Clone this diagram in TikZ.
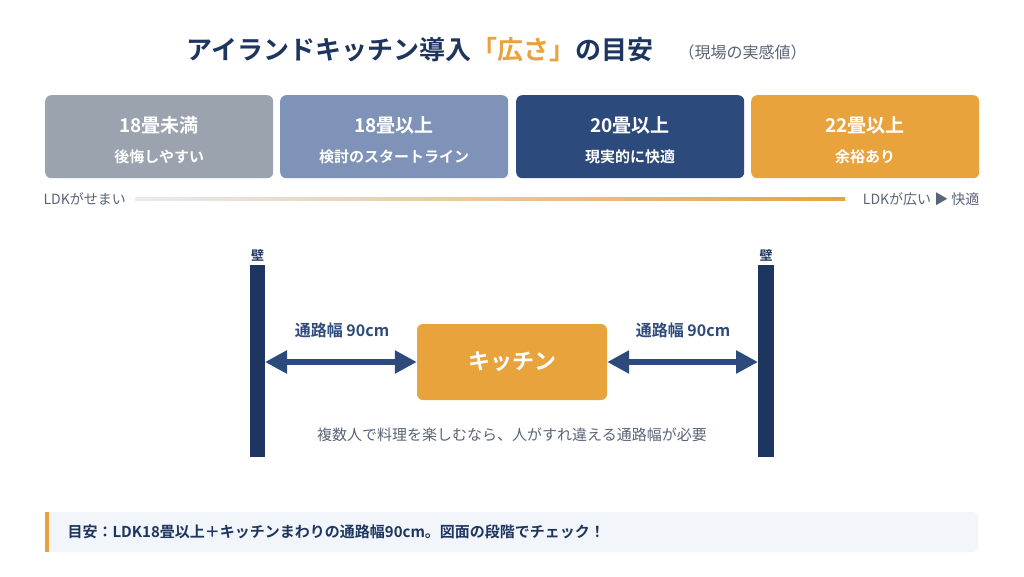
\documentclass[tikz,border=0pt]{standalone}
\usepackage{fontspec}
\setmainfont{Noto Sans CJK JP}[BoldFont={Noto Sans CJK JP Bold}]
\usetikzlibrary{arrows.meta,positioning}
\definecolor{navy}{HTML}{1E3560}
\definecolor{midnavy}{HTML}{2D4A7C}
\definecolor{orng}{HTML}{E8A33D}
\definecolor{slate}{HTML}{9AA3AE}
\definecolor{steel}{HTML}{7F93B8}
\definecolor{txtgray}{HTML}{5A6478}
\definecolor{barbg}{HTML}{F2F5F9}
\tikzset{%
    lvl/.style={rectangle, rounded corners=6pt, minimum width=228pt, minimum height=83pt, text=white, align=center, font=\bfseries, anchor=north west},
    big/.style={font=\fontsize{19}{22}\selectfont\bfseries},
    sml/.style={font=\fontsize{15}{18}\selectfont\bfseries},
    wall/.style={fill=navy, draw=none},
    pas/.style={line width=6pt, midnavy, {Triangle[length=22pt,width=22pt]}-{Triangle[length=22pt,width=22pt]}},
    lbl/.style={text=midnavy, font=\fontsize{16}{19}\selectfont\bfseries},
    gry/.style={text=txtgray, font=\fontsize{14}{16}\selectfont}
}
\begin{document}
\begin{tikzpicture}[x=1pt,y=-1pt]
    \useasboundingbox [fill=white] (0,0) rectangle (1024,576);
    % title
    \node (title) at (420,50) {\fontsize{26}{30}\selectfont\bfseries\color{navy}アイランドキッチン導入\color{orng}「広さ」\color{navy}の目安};
    \node [gry, font=\fontsize{16}{19}\selectfont, anchor=west] (note) at (675,52) {（現場の実感値）};
    % levels
    \node [lvl, fill=slate] (l1) at (45,95) {};
    \node [lvl, fill=steel] (l2) at (280,95) {};
    \node [lvl, fill=midnavy] (l3) at (516,95) {};
    \node [lvl, fill=orng] (l4) at (751,95) {};
    \foreach \n/\a/\b in {l1/18畳未満/後悔しやすい, l2/18畳以上/検討のスタートライン, l3/20畳以上/現実的に快適, l4/22畳以上/余裕あり}{
        \node [big, text=white] at ([yshift=-30pt]\n.north) {\a};
        \node [sml, text=white] at ([yshift=-62pt]\n.north) {\b};
    }
    % scale
    \node [gry, anchor=west] (narrow) at (40,199) {LDKがせまい};
    \node [gry, anchor=east] (wide) at (983,199) {LDKが広い ▶ 快適};
    \shade [left color=barbg!60!steel!40, right color=orng] (135,197.5) rectangle (845,200.5);
    % walls
    \fill [wall] (250,265) rectangle (265,457);
    \fill [wall] (758,265) rectangle (774,457);
    \coordinate (wl) at (265,362);
    \coordinate (wr) at (758,362);
    \node [font=\fontsize{13}{15}\selectfont\bfseries, text=navy] (tl) at (257.5,255) {壁};
    \node [font=\fontsize{13}{15}\selectfont\bfseries, text=navy] (tr) at (766,255) {壁};
    % kitchen
    \node [rectangle, rounded corners=6pt, fill=orng, minimum width=190pt, minimum height=76pt, text=white, font=\fontsize{22}{25}\selectfont\bfseries] (kit) at (512,362) {キッチン};
    \draw [pas] (wl) -- (kit.west);
    \draw [pas] (kit.east) -- (wr);
    \node [lbl] (pl) at (342,330) {通路幅 90cm};
    \node [lbl] (pr) at (683,330) {通路幅 90cm};
    \node [gry, font=\fontsize{15}{18}\selectfont] (cap) at (512,435) {複数人で料理を楽しむなら、人がすれ違える通路幅が必要};
    % bottom bar
    \fill [barbg, rounded corners=5pt] (45,512) rectangle (978,552);
    \fill [orng] (45,512) rectangle (49,552);
    \node [anchor=west, text=navy, font=\fontsize{15}{18}\selectfont\bfseries] (tip) at (64,532) {目安：LDK18畳以上＋キッチンまわりの通路幅90cm。図面の段階でチェック！};
\end{tikzpicture}
\end{document}
